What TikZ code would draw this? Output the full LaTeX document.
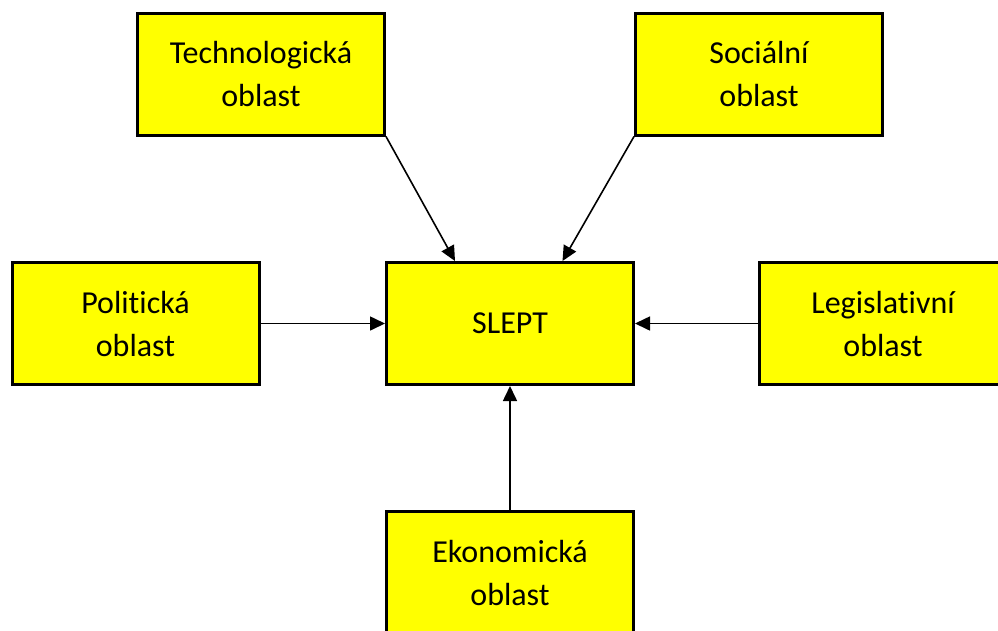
\documentclass[tikz,border=0pt]{standalone}
\usepackage{fontspec}
\setmainfont[RawFeature=-liga]{Carlito}
\usetikzlibrary{arrows.meta,calc}
\definecolor{areafill}{RGB}{255,255,0}
\begin{document}
\begin{tikzpicture}[x=1pt,y=-1pt,
  area/.style={draw=black, line width=3pt, fill=areafill,
    minimum width=247pt, minimum height=122pt, align=center,
    inner sep=0pt, font=\fontsize{32}{43}\selectfont},
  link/.style={line width=1.6pt, -{Triangle[length=15pt,width=14pt]}}]
  \useasboundingbox (0,0) rectangle (998,630);
  \clip (0,0) rectangle (998,630);
  % boxes
  \node[area] (tech)  at (261,74)    {Technologická\\oblast};
  \node[area] (soc)   at (759,74)    {Sociální\\oblast};
  \node[area] (pol)   at (135.5,323.5) {Politická\\oblast};
  \node[area] (slept) at (510,323.5) {SLEPT};
  \node[area] (leg)   at (883,323.5) {Legislativní\\oblast};
  \node[area] (eko)   at (510,572.5) {Ekonomická\\oblast};
  % connectors
  \coordinate (tin) at ($(slept.north west)!0.28!(slept.north east)$);
  \coordinate (sin) at ($(slept.north west)!0.71!(slept.north east)$);
  \draw[link] (tech.south east) -- (tin);
  \draw[link] (soc.south west) -- (sin);
  \draw[link] (pol.east) -- (slept.west);
  \draw[link] (leg.west) -- (slept.east);
  \draw[link] (eko.north) -- (slept.south);
\end{tikzpicture}
\end{document}
